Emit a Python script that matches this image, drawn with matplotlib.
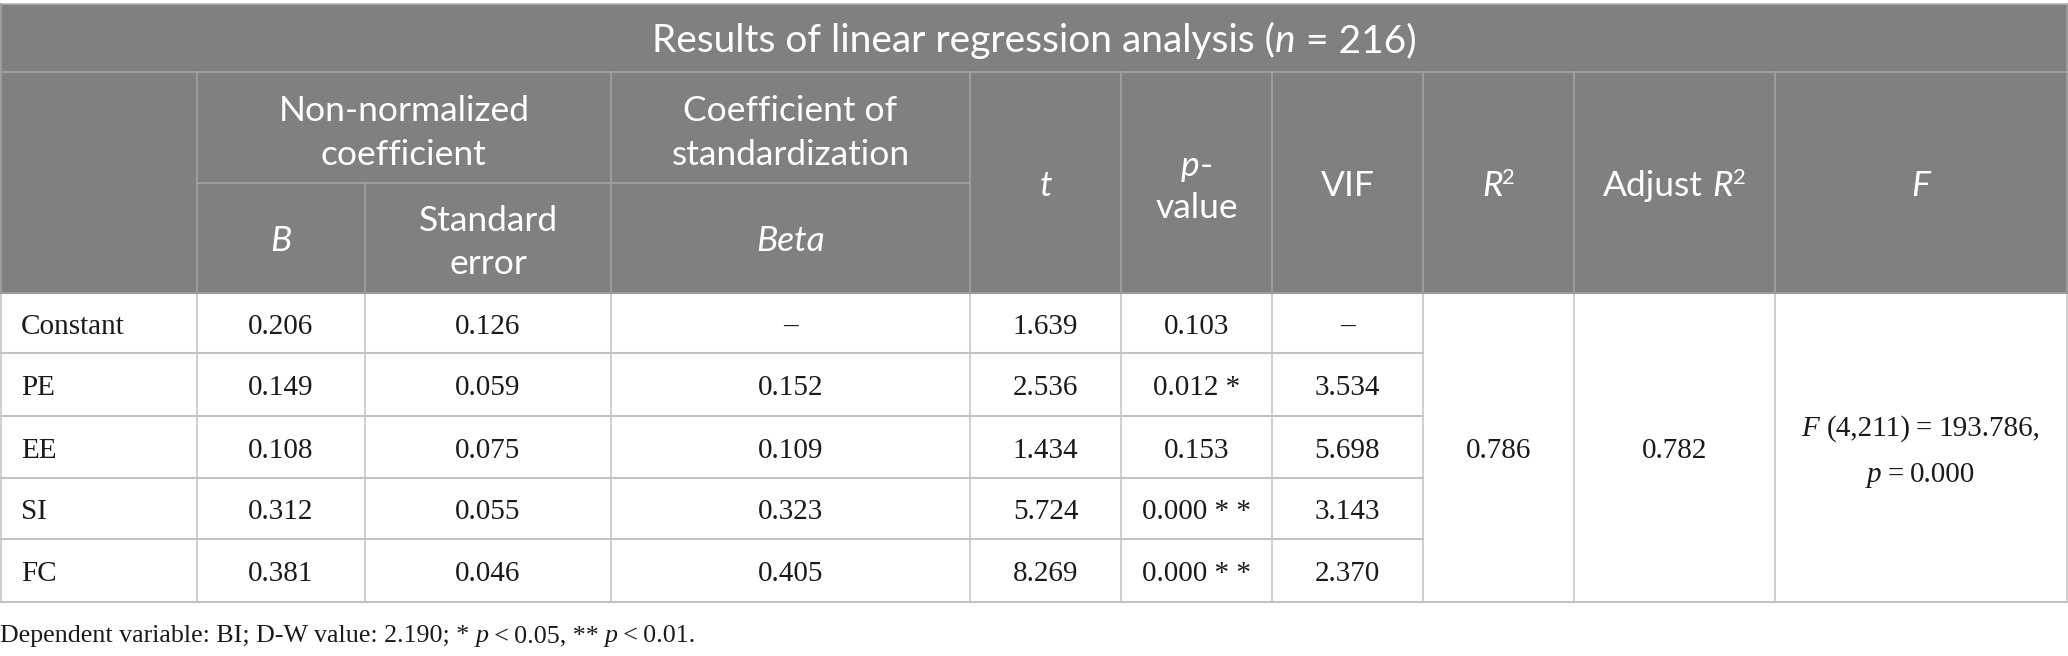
import matplotlib
matplotlib.use("Agg")
import matplotlib.pyplot as plt
from matplotlib.patches import Rectangle

# ---------------- data ----------------
variables = ["Constant", "PE", "EE", "SI", "FC"]
coef_B = [0.206, 0.149, 0.108, 0.312, 0.381]
std_err = [0.126, 0.059, 0.075, 0.055, 0.046]
beta = [None, 0.152, 0.109, 0.323, 0.405]
t_vals = [1.639, 2.536, 1.434, 5.724, 8.269]
p_vals = [0.103, 0.012, 0.153, 0.000, 0.000]
p_stars = ["", " *", "", " * *", " * *"]
vif = [None, 3.534, 5.698, 3.143, 2.370]
r_squared = 0.786
adj_r_squared = 0.782
f_df = "4,211"
f_value = 193.786
f_p = 0.000
n_obs = 216
dw_value = 2.190

# ---------------- layout ----------------
W, H = 2068, 656
fig = plt.figure(figsize=(W / 100, H / 100), dpi=100)
ax = fig.add_axes([0, 0, 1, 1])
ax.set_xlim(0, W)
ax.set_ylim(H, 0)
ax.axis("off")
renderer = fig.canvas.get_renderer()

col_x = [0, 196.5, 365, 611, 970, 1121, 1272, 1423, 1574, 1775, 2067]
y_top, y_title, y_mid, y_head = 4, 72, 183, 293
row_y = [293, 353, 416, 478, 539, 602]

HEAD_BG = "#7f807f"
HEAD_LINE = "#a4a5a4"
BODY_LINE = "#c2c2c2"
LW = 1.1

SANS = "Lato"
SERIF = "Liberation Serif"
TS = 28.0   # title font size (pt)
HS = 25.5   # header font size (pt)
BS = 21.0   # body font size (pt)
FS = 18.7   # footnote size


def seg_size(size, style):
    return size * 0.62 if style == "sup" else size


def seg_style(style):
    return "normal" if style == "sup" else style


def seg_width(s, size, family, style):
    sz, st = seg_size(size, style), seg_style(style)
    if s == " ":
        a = ax.text(0, 0, "x x", fontsize=sz, family=family, style=st)
        b = ax.text(0, 0, "xx", fontsize=sz, family=family, style=st)
        w = a.get_window_extent(renderer).width - b.get_window_extent(renderer).width
        a.remove(); b.remove()
        return w
    t = ax.text(0, 0, s, fontsize=sz, family=family, style=st)
    w = t.get_window_extent(renderer).width
    t.remove()
    return w


def rich(x, yc, segs, size, family, color, ha="center"):
    """segs: list of (text, style). yc = vertical centre of cap height."""
    px = size * 100 / 72
    base = yc + 0.36 * px
    widths = [seg_width(s, size, family, st) for s, st in segs]
    total = sum(widths)
    x0 = x - total / 2 if ha == "center" else x
    for (s, st), w in zip(segs, widths):
        if s != " ":
            b = base - 0.33 * px if st == "sup" else base
            ax.text(x0, b, s, fontsize=seg_size(size, st), family=family,
                    style=seg_style(st), color=color, ha="left", va="baseline")
        x0 += w


def cx(i, j=None):
    j = i if j is None else j
    return (col_x[i] + col_x[j + 1]) / 2


# header background
ax.add_patch(Rectangle((0, y_top), W, y_head - y_top, facecolor=HEAD_BG,
                       edgecolor="none", zorder=0))
ax.plot([0, W], [y_top, y_top], color="#b5b5b5", lw=LW)
ax.plot([0, W], [y_title, y_title], color=HEAD_LINE, lw=LW)
ax.plot([col_x[1], col_x[4]], [y_mid, y_mid], color=HEAD_LINE, lw=LW)
for i in [1, 3, 4, 5, 6, 7, 8, 9]:
    ax.plot([col_x[i], col_x[i]], [y_title, y_head], color=HEAD_LINE, lw=LW)
ax.plot([col_x[2], col_x[2]], [y_mid, y_head], color=HEAD_LINE, lw=LW)
ax.plot([0.8, 0.8], [y_top, y_head], color=HEAD_LINE, lw=LW)
ax.plot([W - 1, W - 1], [y_top, y_head], color=HEAD_LINE, lw=LW)

WHITE = "white"
N, I = "normal", "italic"
rich(W / 2, 38, [("Results of linear regression analysis (", N), ("n", I),
                 (" ", N), ("= 216)", N)], TS, SANS, WHITE)
rich(cx(1, 2), 108, [("Non-normalized", N)], HS, SANS, WHITE)
rich(cx(1, 2), 152, [("coefficient", N)], HS, SANS, WHITE)
rich(cx(3), 108, [("Coefficient of", N)], HS, SANS, WHITE)
rich(cx(3), 152, [("standardization", N)], HS, SANS, WHITE)
rich(cx(1), 238, [("B", I)], HS, SANS, WHITE)
rich(cx(2), 218, [("Standard", N)], HS, SANS, WHITE)
rich(cx(2), 261, [("error", N)], HS, SANS, WHITE)
rich(cx(3), 238, [("Beta", I)], HS, SANS, WHITE)
rich(cx(4), 183, [("t", I)], HS, SANS, WHITE)
rich(cx(5), 163, [("p", I), ("-", N)], HS, SANS, WHITE)
rich(cx(5), 205, [("value", N)], HS, SANS, WHITE)
rich(cx(6), 183, [("VIF", N)], HS, SANS, WHITE)
rich(cx(7), 183, [("R", I), ("2", "sup")], HS, SANS, WHITE)
rich(cx(8), 183, [("Adjust", N), (" ", N), ("R", I), ("2", "sup")], HS, SANS, WHITE)
rich(cx(9), 183, [("F", I)], HS, SANS, WHITE)

# body grid
for i in range(1, 10):
    ax.plot([col_x[i], col_x[i]], [y_head, row_y[-1]], color=BODY_LINE, lw=LW)
ax.plot([0.8, 0.8], [y_head, row_y[-1]], color=BODY_LINE, lw=LW)
ax.plot([W - 1, W - 1], [y_head, row_y[-1]], color=BODY_LINE, lw=LW)
for y in row_y[1:-1]:
    ax.plot([0, col_x[7]], [y, y], color=BODY_LINE, lw=1.5)
ax.plot([0, W], [row_y[-1], row_y[-1]], color=BODY_LINE, lw=1.5)
ax.plot([0, W], [y_head, y_head], color="#9a9a9a", lw=1.5)


def fmt(v):
    return "–" if v is None else f"{v:.3f}"


BLACK = "#1a1a1a"
for r, name in enumerate(variables):
    yc = (row_y[r] + row_y[r + 1]) / 2
    rich(21, yc, [(name, N)], BS, SERIF, BLACK, ha="left")
    rich(cx(1), yc, [(fmt(coef_B[r]), N)], BS, SERIF, BLACK)
    rich(cx(2), yc, [(fmt(std_err[r]), N)], BS, SERIF, BLACK)
    rich(cx(3), yc, [(fmt(beta[r]), N)], BS, SERIF, BLACK)
    rich(cx(4), yc, [(fmt(t_vals[r]), N)], BS, SERIF, BLACK)
    rich(cx(5), yc, [(fmt(p_vals[r]) + p_stars[r], N)], BS, SERIF, BLACK)
    rich(cx(6), yc, [(fmt(vif[r]), N)], BS, SERIF, BLACK)

ymerge = (row_y[0] + row_y[-1]) / 2
rich(cx(7), ymerge, [(fmt(r_squared), N)], BS, SERIF, BLACK)
rich(cx(8), ymerge, [(fmt(adj_r_squared), N)], BS, SERIF, BLACK)
rich(cx(9), 425, [("F", I), (" ", N), (f"({f_df})", N), ("\u2009=\u2009", N),
                  (f"{f_value:.3f},", N)], BS, SERIF, BLACK)
rich(cx(9), 472, [("p", I), ("\u2009=\u2009", N), (f"{f_p:.3f}", N)], BS, SERIF, BLACK)

# footnote
rich(0, 633, [(f"Dependent variable: BI; D-W value: {dw_value:.3f}; * ", N), ("p", I),
              ("\u2009<\u20090.05, ** ", N), ("p", I), ("\u2009<\u20090.01.", N)],
     FS, SERIF, BLACK, ha="left")

fig.savefig("out.png", dpi=100, facecolor="white")
